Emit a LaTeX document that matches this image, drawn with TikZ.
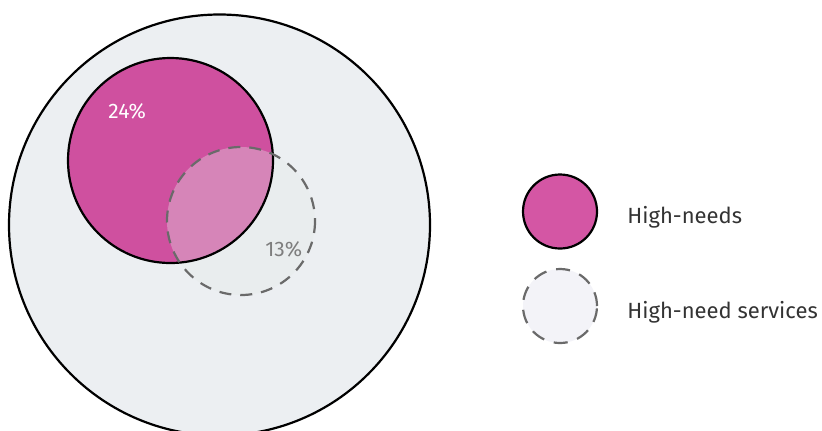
\documentclass[tikz,border=0pt]{standalone}
\usepackage{fontspec}
\setmainfont{Fira Sans}
\usetikzlibrary{positioning}
\definecolor{bgring}{HTML}{ECEFF2}
\definecolor{hneed}{HTML}{CF509F}
\definecolor{hneedkey}{HTML}{D456A4}
\definecolor{dashgray}{HTML}{6A6A6A}
\definecolor{svcfill}{HTML}{F3F3F8}
\definecolor{svcwash}{HTML}{E4EAE8}
\definecolor{pctgray}{HTML}{7E7E7E}
\definecolor{ink}{HTML}{333333}
\tikzset{ring/.style={draw=black,line width=1.1pt}}
\tikzset{dashring/.style={draw=dashgray,line width=1.1pt,dash pattern=on 6pt off 4.5pt}}
\tikzset{keydot/.style={circle,minimum size=37pt,inner sep=0pt}}
\tikzset{lbl/.style={font=\fontsize{11}{13}\selectfont,text=ink,inner sep=0pt,anchor=base west}}
\tikzset{pct/.style={font=\fontsize{10.5}{12}\selectfont,inner sep=0pt,anchor=base west}}

\begin{document}
\begin{tikzpicture}[x=0.5pt,y=-0.5pt]
\useasboundingbox (0,0) rectangle (822,430);
\clip (0,0) rectangle (822,430);
\coordinate (all) at (219.5,225);
\coordinate (hn) at (170.5,160.5);
\coordinate (svc) at (241,221);
% outer population
\fill[bgring] (all) circle (210.5);
\draw[ring] (all) circle (210.5);
% high-needs and services overlap
\fill[hneed] (hn) circle (102.5);
\fill[svcwash,opacity=0.35] (svc) circle (74);
\draw[ring] (hn) circle (102.5);
\draw[dashring] (svc) circle (74);
\node[pct,text=white] (p24) at (108,118) {24\%};
\node[pct,text=pctgray] (p13) at (265,256) {13\%};
% key
\node[keydot,ring,fill=hneedkey] (khn) at (560,211.5) {};
\node[keydot,dashring,dash pattern=on 7pt off 5pt,fill=svcfill] (ksvc) at (560,306) {};
\node[lbl] (thn) at (627,223) {High-needs};
\node[lbl] (tsvc) at (627,318) {High-need services};
\end{tikzpicture}
\end{document}
